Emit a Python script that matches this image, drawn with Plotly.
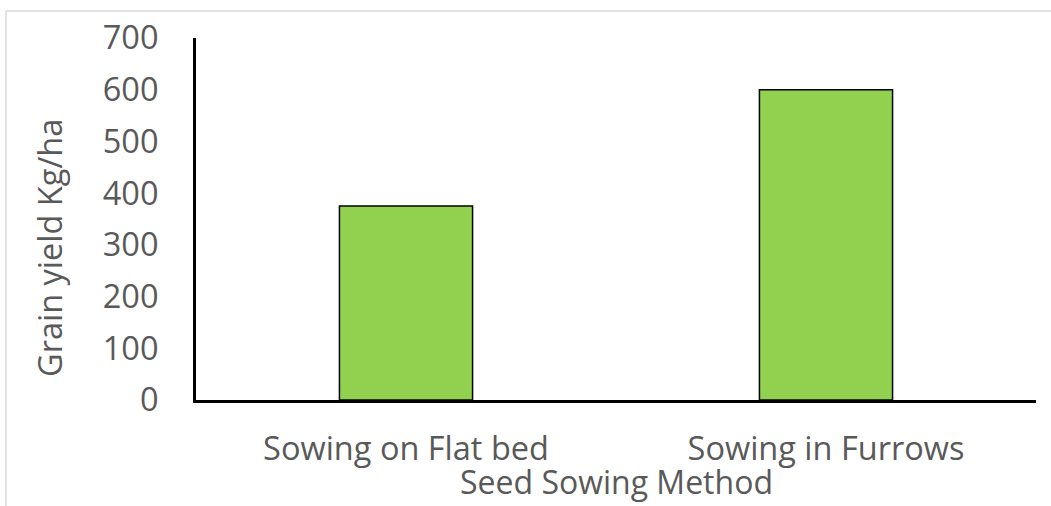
import plotly.graph_objects as go

# Grain yield by seed sowing method
methods = ["Sowing on Flat bed", "Sowing in Furrows"]
grain_yield = [375, 600]

y_ticks = [0, 100, 200, 300, 400, 500, 600, 700]

FONT = "Open Sans"
TEXT_GREY = "#595959"

fig = go.Figure(
    go.Bar(
        x=methods,
        y=grain_yield,
        width=0.317,
        marker=dict(color="#92D050", line=dict(color="#000000", width=1.5)),
    )
)

fig.update_layout(
    width=1051,
    height=506,
    margin=dict(l=196, r=15, t=38, b=106),
    paper_bgcolor="white",
    plot_bgcolor="white",
    showlegend=False,
    font=dict(family=FONT, size=32, color=TEXT_GREY),
)

fig.update_xaxes(
    showline=True,
    linecolor="black",
    linewidth=2.5,
    showgrid=False,
    ticks="",
    tickfont=dict(family=FONT, size=32.5, color=TEXT_GREY),
    ticklabelstandoff=18,
)

fig.update_yaxes(
    range=[0, 700],
    tickvals=y_ticks,
    showline=True,
    linecolor="black",
    linewidth=3,
    showgrid=False,
    zeroline=False,
    ticks="",
    tickfont=dict(family=FONT, size=32.5, color=TEXT_GREY),
    ticklabelstandoff=28,
)

# Axis titles
fig.add_annotation(
    text="Seed Sowing Method", xref="paper", yref="paper",
    x=0.5, y=-0.2265, xanchor="center", yanchor="middle",
    showarrow=False, borderpad=0,
    font=dict(family=FONT, size=32, color=TEXT_GREY),
)
fig.add_annotation(
    text="Grain yield Kg/ha", xref="paper", yref="paper",
    x=-0.1738, y=0.42, xanchor="center", yanchor="middle", textangle=-90,
    showarrow=False, font=dict(family=FONT, size=32.5, color=TEXT_GREY),
)

# Light chart-area frame
fig.add_shape(
    type="rect", xref="paper", yref="paper",
    x0=-0.2262, x1=1.03, y0=-0.34, y1=1.0746,
    line=dict(color="#d9d9d9", width=1.5),
    fillcolor="rgba(0,0,0,0)", layer="below",
)

fig.write_html("out.html")
